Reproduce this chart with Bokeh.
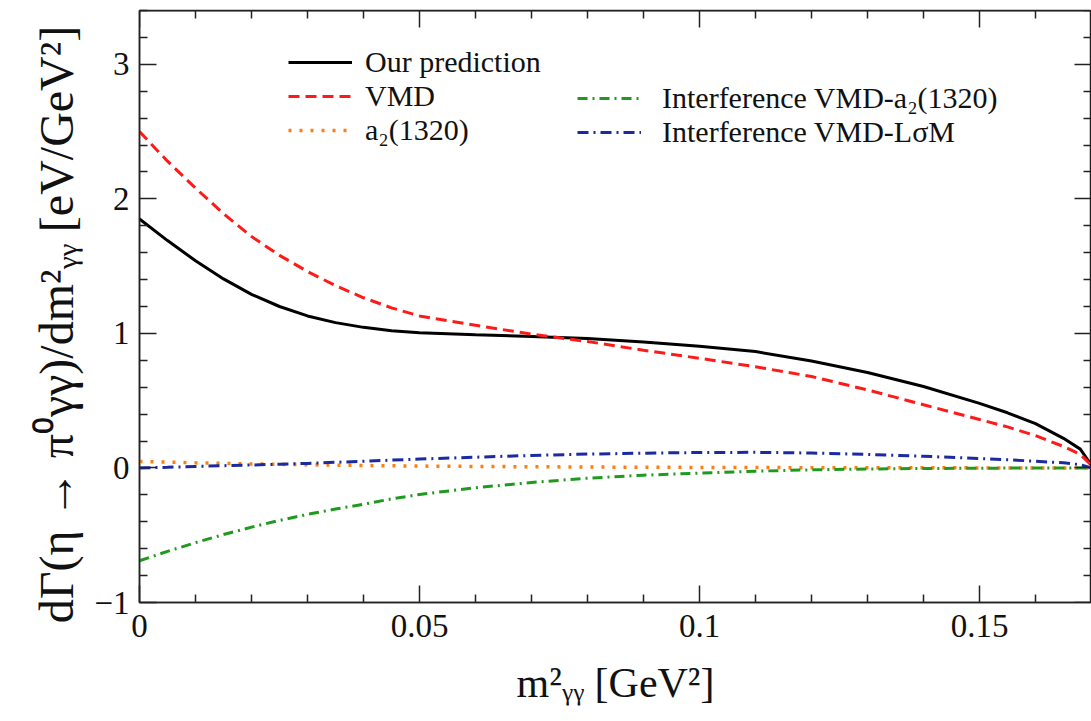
from bokeh.plotting import figure
from bokeh.models import LinearAxis, FixedTicker, Legend, LegendItem, Range1d
from bokeh.embed import file_html
from bokeh.resources import INLINE

# ---- data ----
x_vals = [0, 0.005, 0.01, 0.015, 0.02, 0.025, 0.03, 0.035, 0.04, 0.045, 0.05,
          0.06, 0.07, 0.08, 0.09, 0.1, 0.11, 0.12, 0.13, 0.14, 0.15, 0.155,
          0.16, 0.165, 0.168, 0.17]
our_prediction = [1.85, 1.69, 1.54, 1.405, 1.29, 1.20, 1.13, 1.08, 1.045, 1.02, 1.005,
                  0.99, 0.977, 0.962, 0.937, 0.905, 0.865, 0.795, 0.71, 0.605, 0.48, 0.41,
                  0.33, 0.22, 0.14, 0.02]
vmd = [2.50, 2.28, 2.08, 1.89, 1.72, 1.58, 1.46, 1.355, 1.265, 1.19, 1.13,
       1.06, 0.995, 0.94, 0.875, 0.815, 0.752, 0.68, 0.58, 0.47, 0.36, 0.305,
       0.24, 0.16, 0.10, 0.02]
a2_1320 = [0.048, 0.043, 0.038, 0.034, 0.030, 0.027, 0.024, 0.021, 0.018, 0.016, 0.014,
           0.011, 0.009, 0.007, 0.005, 0.004, 0.003, 0.002, 0.0015, 0.001, 0.0005, 0.0003,
           0.0002, 0.0001, 0.0, 0.0]
interf_vmd_a2 = [-0.69, -0.62, -0.555, -0.495, -0.44, -0.39, -0.345, -0.305, -0.27, -0.23, -0.197,
                 -0.147, -0.108, -0.076, -0.054, -0.038, -0.024, -0.014, -0.008, -0.004, -0.002, -0.001,
                 -0.001, 0.0, 0.0, 0.0]
interf_vmd_lsm = [0.0, 0.005, 0.011, 0.017, 0.022, 0.028, 0.034, 0.042, 0.05, 0.058, 0.066,
                  0.08, 0.093, 0.103, 0.11, 0.115, 0.116, 0.111, 0.101, 0.087, 0.07, 0.061,
                  0.05, 0.038, 0.024, 0.0]

series_names = ["Our prediction", "VMD", "a\u2082(1320)",
                "Interference VMD-a\u2082(1320)", "Interference VMD-L\u03c3M"]

x_ticks = [0, 0.05, 0.1, 0.15]
x_tick_labels = ["0", "0.05", "0.1", "0.15"]
x_minor = [0.01, 0.02, 0.03, 0.04, 0.06, 0.07, 0.08, 0.09, 0.11, 0.12, 0.13, 0.14, 0.16, 0.17]
y_ticks = [-1, 0, 1, 2, 3]
y_tick_labels = ["\u22121", "0", "1", "2", "3"]
y_minor = [-0.8, -0.6, -0.4, -0.2, 0.2, 0.4, 0.6, 0.8, 1.2, 1.4, 1.6, 1.8,
           2.2, 2.4, 2.6, 2.8, 3.2, 3.4]

X_MAX = 0.17
Y_MAX = 3.4
FONT = "Liberation Serif"
AX_COLOR = "#222222"

p = figure(frame_width=952, frame_height=592,
           x_range=Range1d(0, X_MAX), y_range=Range1d(-1, Y_MAX),
           output_backend="svg", toolbar_location=None,
           min_border_left=139, min_border_right=0, min_border_top=10, min_border_bottom=112,
           background_fill_color="white", border_fill_color="white")
p.grid.visible = False
p.outline_line_color = AX_COLOR
p.outline_line_width = 1.5

x_axis = p.xaxis[0]
y_axis = p.yaxis[0]


def base_style(ax):
    ax.axis_line_color = AX_COLOR
    ax.axis_line_width = 1.5
    ax.major_tick_out = 0
    ax.minor_tick_out = 0
    ax.major_tick_line_color = AX_COLOR
    ax.minor_tick_line_color = AX_COLOR
    ax.major_tick_line_width = 1.5
    ax.minor_tick_line_width = 1.5


def labelled_axis(ax, ticks, minor, labels):
    base_style(ax)
    ax.ticker = FixedTicker(ticks=ticks, minor_ticks=minor)
    ax.major_label_overrides = dict(zip(ticks, labels))
    ax.major_tick_in = 17
    ax.minor_tick_in = 8
    ax.major_label_text_font = FONT
    ax.major_label_text_color = "#111111"
    ax.major_label_text_font_size = "33px"


def mirror_axes(ticks, minor, side, loc):
    # label-free mirror axes: all ticks given as minor ticks (minor ticks carry no labels)
    a_minor = LinearAxis(fixed_location=loc)
    base_style(a_minor)
    a_minor.ticker = FixedTicker(ticks=[], minor_ticks=minor)
    a_minor.minor_tick_in = 8
    a_major = LinearAxis(fixed_location=loc)
    base_style(a_major)
    a_major.ticker = FixedTicker(ticks=[], minor_ticks=ticks)
    a_major.minor_tick_in = 17
    p.add_layout(a_minor, side)
    p.add_layout(a_major, side)


labelled_axis(x_axis, x_ticks, x_minor, x_tick_labels)
labelled_axis(y_axis, y_ticks, y_minor, y_tick_labels)
x_axis.major_label_standoff = 12
y_axis.major_label_standoff = 10

mirror_axes(x_ticks, x_minor, "above", Y_MAX)
mirror_axes(y_ticks, y_minor, "right", X_MAX)

x_axis.axis_label = "m\u00b2\u1d67\u1d67 [GeV\u00b2]"
x_axis.axis_label_text_font = FONT
x_axis.axis_label_text_font_style = "normal"
x_axis.axis_label_text_font_size = "42px"
x_axis.axis_label_standoff = 20
x_axis.axis_label_text_color = "#111111"

y_axis.axis_label = "d\u0393(\u03b7 \u2192 \u03c0\u2070\u03b3\u03b3)/dm\u00b2\u1d67\u1d67    [eV/GeV\u00b2]"
y_axis.axis_label_text_font = FONT
y_axis.axis_label_text_font_style = "normal"
y_axis.axis_label_text_font_size = "48px"
y_axis.axis_label_standoff = 8
y_axis.axis_label_text_color = "#111111"

r_black = p.line(x_vals, our_prediction, line_color="black", line_width=3)
r_red = p.line(x_vals, vmd, line_color="#ff1a1a", line_width=3, line_dash="11 6")
r_orange = p.line(x_vals, a2_1320, line_color="#ff7f0e", line_width=3.5, line_dash="3 8")
r_green = p.line(x_vals, interf_vmd_a2, line_color="#1f9a1f", line_width=3, line_dash="10 5 2 5")
r_blue = p.line(x_vals, interf_vmd_lsm, line_color="#1a2aa0", line_width=3, line_dash="11 5 2 5")

leg_common = dict(border_line_alpha=0, background_fill_alpha=0, padding=0, margin=0,
                  spacing=0, glyph_width=64, glyph_height=32, label_height=32,
                  label_text_font=FONT, label_text_font_size="30px",
                  label_text_color="#111111")

leg1 = Legend(items=[LegendItem(label=series_names[0], renderers=[r_black]),
                     LegendItem(label=series_names[1], renderers=[r_red]),
                     LegendItem(label=series_names[2], renderers=[r_orange])],
              location=(149, 455), label_standoff=13, **leg_common)
leg2 = Legend(items=[LegendItem(label=series_names[3], renderers=[r_green]),
                     LegendItem(label=series_names[4], renderers=[r_blue])],
              location=(438, 453), label_standoff=21, **leg_common)
p.add_layout(leg1, "center")
p.add_layout(leg2, "center")

open("out.html", "w").write(file_html(p, INLINE))
